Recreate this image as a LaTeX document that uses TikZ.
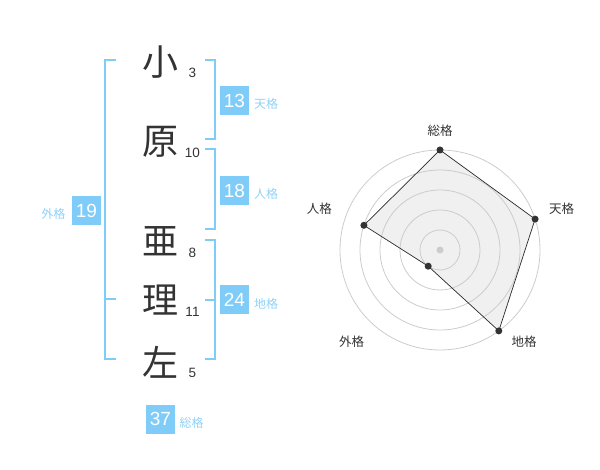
\documentclass[tikz,border=0pt]{standalone}
\usepackage{fontspec}
\setmainfont{Liberation Sans}
\newfontfamily\jp{Noto Sans CJK JP}
\definecolor{brk}{HTML}{80CCF8}
\definecolor{lbl}{HTML}{8FD2F7}
\definecolor{ink}{HTML}{333333}
\definecolor{ring}{HTML}{CCCCCC}
\tikzset{
  kanji/.style={font=\jp\fontsize{36}{36}\selectfont, text=ink, inner sep=0pt},
  stroke/.style={font=\fontsize{13.5}{14}\selectfont, text=ink, inner sep=0pt},
  numbox/.style={fill=brk, text=white, minimum width=29pt, minimum height=29pt, inner sep=0pt, font=\fontsize{19}{19}\selectfont},
  kaku/.style={font=\jp\fontsize{12}{12}\selectfont, text=lbl, inner sep=0pt},
  bracket/.style={draw=brk, line width=2pt},
  radlbl/.style={font=\jp\fontsize{12.5}{12.5}\selectfont, text=ink, inner sep=0pt},
  dot/.style={circle, fill=ink, inner sep=0pt, minimum size=7pt},
}
\begin{document}
\begin{tikzpicture}[x=1pt,y=-1pt]
\useasboundingbox (0,0) rectangle (600,470);
% name characters
\node[kanji] (c1) at (160,62) {小};
\node[kanji] (c2) at (160,142) {原};
\node[kanji] (c3) at (160,241) {亜};
\node[kanji] (c4) at (160,300) {理};
\node[kanji] (c5) at (160,362) {左};
% stroke counts
\node[stroke] (n1) at (192.5,72.5) {3};
\node[stroke] (n2) at (192.5,153) {10};
\node[stroke] (n3) at (192.5,253) {8};
\node[stroke] (n4) at (192.5,312) {11};
\node[stroke] (n5) at (192.5,372.5) {5};
% brackets
\draw[bracket] (116,60) -- (105,60) -- (105,359.5) -- (116,359.5);
\draw[bracket] (105,299.5) -- (116,299.5);
\draw[bracket] (205,60) -- (214.5,60) -- (214.5,139.5) -- (205,139.5);
\draw[bracket] (205,149.5) -- (214.5,149.5) -- (214.5,229.5) -- (205,229.5);
\draw[bracket] (205,240) -- (214.5,240) -- (214.5,359.5) -- (205,359.5);
\draw[bracket] (205,300) -- (214.5,300);
% boxes
\node[numbox] (b13) at (234.5,100.5) {13};
\node[numbox] (b18) at (234.5,190.5) {18};
\node[numbox] (b24) at (234.5,300) {24};
\node[numbox] (b19) at (86.5,210.5) {19};
\node[numbox] (b37) at (160.5,419) {37};
\node[kaku] (k13) at (266,104) {天格};
\node[kaku] (k18) at (266,194) {人格};
\node[kaku] (k24) at (266,304) {地格};
\node[kaku] (k19) at (53.5,214) {外格};
\node[kaku] (k37) at (191.7,422.7) {総格};
% radar
\coordinate (ctr) at (440,250);
\coordinate (p1) at (440,150);
\coordinate (p2) at (535.1,219.1);
\coordinate (p3) at (498.8,330.9);
\coordinate (p4) at (428.2,266.2);
\coordinate (p5) at (363.9,225.3);
\fill[gray!12] (p1) -- (p2) -- (p3) -- (p4) -- (p5) -- cycle;
\foreach \r in {20,40,60,80,100} \draw[ring, line width=0.8pt] (ctr) circle[radius=\r];
\fill[ring] (ctr) circle[radius=3.5];
\draw[ink!80!black, line width=0.7pt] (p1) -- (p2) -- (p3) -- (p4) -- (p5) -- cycle;
\foreach \p in {p1,p2,p3,p4,p5} \node[dot] at (\p) {};
\node[radlbl] (r1) at (440,130.7) {総格};
\node[radlbl] (r2) at (561.7,209) {天格};
\node[radlbl] (r3) at (524,341.7) {地格};
\node[radlbl] (r4) at (351.7,341.7) {外格};
\node[radlbl] (r5) at (319.3,209) {人格};
\end{tikzpicture}
\end{document}
